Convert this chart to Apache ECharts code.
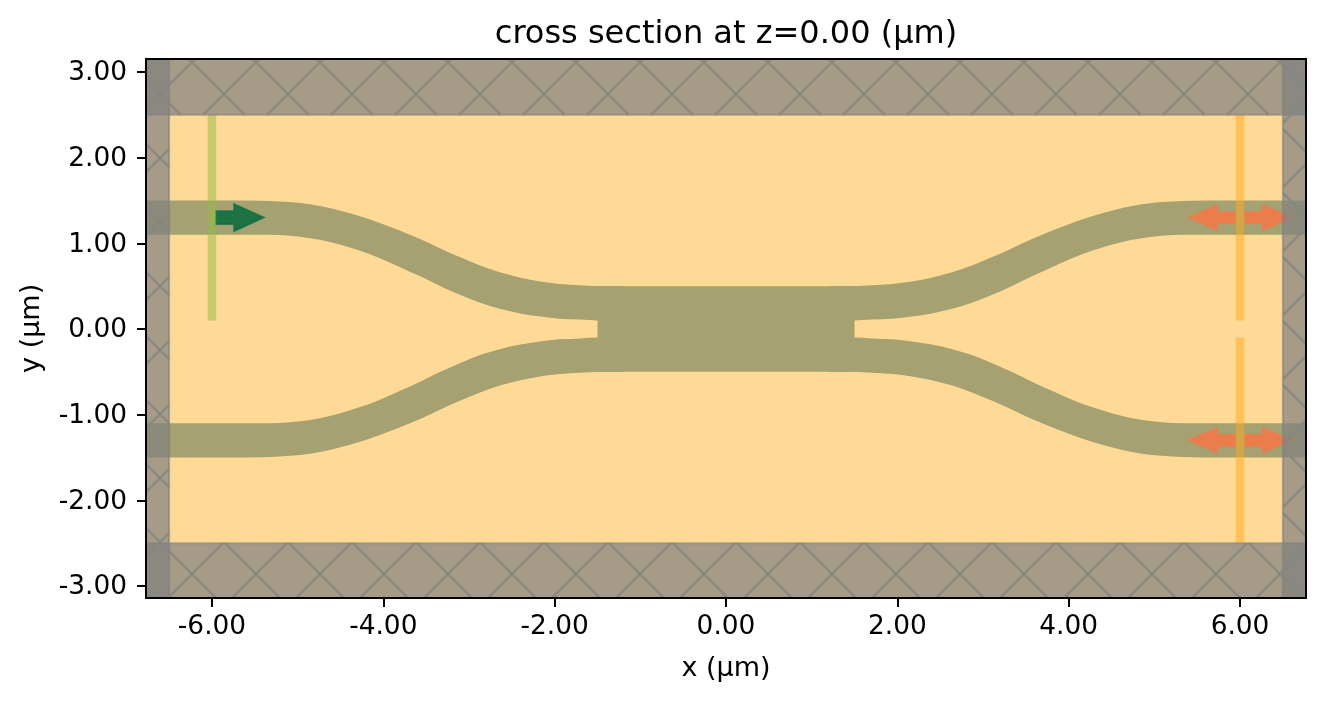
<!DOCTYPE html>
<html>
<head>
<meta charset="utf-8">
<style>html,body{margin:0;padding:0;background:#fff}#container{width:1324px;height:701px}</style>
<script src="https://cdn.jsdelivr.net/npm/echarts@6/dist/echarts.min.js"></script>
</head>
<body>
<div id="container"></div>
<script>
// tick labels
var xTicks = [-6, -4, -2, 0, 2, 4, 6];
var yTicks = [-3, -2, -1, 0, 1, 2, 3];
var xLimit = 6.77, yMax = 3.155, yMin = -3.14;

// upper left arm of the coupler, both edges (um)
// ends run past the frame and into the centre box, where they are hidden
var armX      = [-7.6, -6.8, -6.2, -5.7, -5.44, -5.21, -4.97, -4.74, -4.51, -4.27, -4.04, -3.81, -3.57, -3.34, -3.10, -2.87, -2.64, -2.40, -2.17, -1.94, -1.70, -1.50, -1.2];
var armTop    = [1.5, 1.5, 1.5, 1.5, 1.498, 1.488, 1.471, 1.436, 1.383, 1.317, 1.238, 1.150, 1.051, 0.943, 0.836, 0.740, 0.661, 0.599, 0.554, 0.526, 0.511, 0.50, 0.5];
var armBottom = [1.1, 1.1, 1.1, 1.1, 1.10, 1.097, 1.078, 1.041, 0.985, 0.912, 0.825, 0.725, 0.615, 0.503, 0.396, 0.305, 0.235, 0.182, 0.145, 0.121, 0.110, 0.10, 0.1];
var centerBox = [-1.5, 1.5, -0.5, 0.5];
// signs of the four mirrored arms
var armSigns = [[1, 1], [-1, 1], [1, -1], [-1, -1]];

// x0, x1, y0, y1
var sourcePlane = [[-6.05, -5.95, 0.1, 2.5]];
var monitorPlanes = [[5.95, 6.05, 0.1, 2.5], [5.95, 6.05, -2.5, -0.1]];
var pmlBands = [
  [-xLimit, xLimit, 2.5, yMax],
  [-xLimit, xLimit, yMin, -2.5],
  [-xLimit, -6.5, yMin, yMax],
  [6.5, xLimit, yMin, yMax]
];

// arrows: y centre, tail x, head base x, tip x
var sourceArrows = [[1.3, -5.953, -5.74, -5.40]];
var monitorArrows = [
  [1.3, 5.95, 5.743, 5.38], [1.3, 6.05, 6.257, 6.62],
  [-1.3, 5.95, 5.743, 5.38], [-1.3, 6.05, 6.257, 6.62]
];
var arrowTail = 0.074, arrowHead = 0.155;

var hatchStep = 0.747, hatchSum = -0.129, hatchDiff = -0.386;

function box(b){
  return [[b[0],b[2]],[b[1],b[2]],[b[1],b[3]],[b[0],b[3]]];
}
function arrow(a){
  var y=a[0];
  return [[a[1],y-arrowTail],[a[2],y-arrowTail],[a[2],y-arrowHead],[a[3],y],[a[2],y+arrowHead],[a[2],y+arrowTail],[a[1],y+arrowTail]];
}

function polySeries(name,polys,fill,z,stroke){
  return {
    name:name, type:'custom', z:z, silent:true, clip:true,
    coordinateSystem:'cartesian2d',
    data:polys.map(function(p,i){return [i];}),
    renderItem:function(params,api){
      var pts=polys[params.dataIndex].map(function(p){return api.coord(p);});
      return {type:'polygon',shape:{points:pts},
        style:{fill:fill,stroke:stroke||null,lineWidth:stroke?2:0}};
    }
  };
}

// curve through the read points, tangents from the neighbours
function edgePath(p,cmd){
  var m=p.map(function(q,i){
    var a=p[Math.max(i-1,0)],b=p[Math.min(i+1,p.length-1)];
    return (b[1]-a[1])/(b[0]-a[0]);
  });
  var d=cmd+p[0][0]+' '+p[0][1];
  for(var i=0;i<p.length-1;i++){
    var h=(p[i+1][0]-p[i][0])/3;
    d+=' C'+(p[i][0]+h)+' '+(p[i][1]+m[i]*h)+' '+(p[i+1][0]-h)+' '+(p[i+1][1]-m[i+1]*h)+' '+p[i+1][0]+' '+p[i+1][1];
  }
  return d;
}
var armSeries={
  name:'waveguide arms',type:'custom',z:2,silent:true,clip:true,coordinateSystem:'cartesian2d',
  data:armSigns.map(function(s,i){return [i];}),
  renderItem:function(params,api){
    var s=armSigns[params.dataIndex];
    var top=armX.map(function(x,i){return api.coord([s[0]*x,s[1]*armTop[i]]);});
    var bot=armX.map(function(x,i){return api.coord([s[0]*x,s[1]*armBottom[i]]);});
    return {type:'path',shape:{pathData:edgePath(top,'M')+' '+edgePath(bot.reverse(),'L')+' Z'},style:{fill:'#A5A170'}};
  }
};

// cut the line x+s*y=c to a band
function hatchSegment(b,s,c){
  var pts=[];
  [b[0],b[1]].forEach(function(x){
    var y=(c-x)*s;
    if(y>=b[2]&&y<=b[3]) pts.push([x,y]);
  });
  [b[2],b[3]].forEach(function(y){
    var x=c-s*y;
    if(x>b[0]&&x<b[1]) pts.push([x,y]);
  });
  return pts.length>=2?[pts[0],pts[1]]:null;
}
var hatchLines=[];
pmlBands.forEach(function(b){
  for(var n=-20;n<=20;n++){
    var a=hatchSegment(b,1,hatchSum+n*hatchStep);
    var d=hatchSegment(b,-1,hatchDiff+n*hatchStep);
    if(a) hatchLines.push(a);
    if(d) hatchLines.push(d);
  }
});

var myChart=echarts.init(document.getElementById('container'),null,{renderer:'canvas'});
var fontName='"DejaVu Sans"';
var option={
  animation:false,
  backgroundColor:'#fff',
  title:{text:'cross section at z=0.00 (µm)',left:721,top:14,textAlign:'center',
    textStyle:{fontFamily:fontName,fontWeight:'normal',fontSize:32,color:'#000'}},
  grid:{left:146,right:18,top:58.7,bottom:103,show:true,backgroundColor:'#FEDA96',borderWidth:0},
  xAxis:[{
    type:'value',min:-xLimit,max:xLimit,z:10,position:'bottom',
    name:'x (µm)',nameLocation:'middle',nameGap:57,
    nameTextStyle:{fontFamily:fontName,fontSize:27,color:'#000'},
    splitLine:{show:false},
    axisLine:{show:true,onZero:false,lineStyle:{color:'#000',width:2}},
    axisTick:{show:true,length:9,lineStyle:{color:'#000',width:2},customValues:xTicks},
    axisLabel:{fontFamily:fontName,fontSize:26.4,color:'#000',margin:16,customValues:xTicks,
      formatter:function(v){return v.toFixed(2);}}
  },{
    type:'value',min:-xLimit,max:xLimit,z:10,position:'top',
    splitLine:{show:false},axisTick:{show:false},axisLabel:{show:false},
    axisLine:{show:true,onZero:false,lineStyle:{color:'#000',width:2}}
  }],
  yAxis:[{
    type:'value',min:yMin,max:yMax,z:10,position:'left',
    name:'y (µm)',nameLocation:'middle',nameGap:101,
    nameTextStyle:{fontFamily:fontName,fontSize:27,color:'#000'},
    splitLine:{show:false},
    axisLine:{show:true,onZero:false,lineStyle:{color:'#000',width:2}},
    axisTick:{show:true,length:9,lineStyle:{color:'#000',width:2},customValues:yTicks},
    axisLabel:{margin:19,customValues:yTicks,
      rich:{t:{fontFamily:fontName,fontSize:26.4,color:'#000',padding:[3,0,0,0]}},
      formatter:function(v){return '{t|'+v.toFixed(2)+'}';}}
  },{
    type:'value',min:yMin,max:yMax,z:10,position:'right',
    splitLine:{show:false},axisTick:{show:false},axisLabel:{show:false},
    axisLine:{show:true,onZero:false,lineStyle:{color:'#000',width:2}}
  }],
  series:[
    armSeries,
    polySeries('center',[box(centerBox)],'#A5A170',2),
    polySeries('source arrow',sourceArrows.map(arrow),'#1F7343',3,'rgba(10,110,70,0.8)'),
    polySeries('monitor arrows',monitorArrows.map(arrow),'rgba(243,120,72,0.9)',3),
    polySeries('source plane',sourcePlane.map(box),'rgba(150,190,67,0.52)',4),
    polySeries('monitor planes',monitorPlanes.map(box),'rgba(255,170,30,0.5)',4),
    polySeries('pml',pmlBands.map(box),'rgba(128,128,128,0.7)',5,'rgba(128,128,128,0.6)'),
    {
      name:'pml hatch',type:'custom',z:6,silent:true,clip:true,coordinateSystem:'cartesian2d',
      data:hatchLines.map(function(l,i){return [i];}),
      renderItem:function(params,api){
        var l=hatchLines[params.dataIndex];
        var p0=api.coord(l[0]),p1=api.coord(l[1]);
        return {type:'line',shape:{x1:p0[0],y1:p0[1],x2:p1[0],y2:p1[1]},
          style:{stroke:'rgba(134,134,128,0.8)',lineWidth:2.6,fill:null}};
      }
    }
  ]
};
myChart.setOption(option,true);
</script>
</body>
</html>
